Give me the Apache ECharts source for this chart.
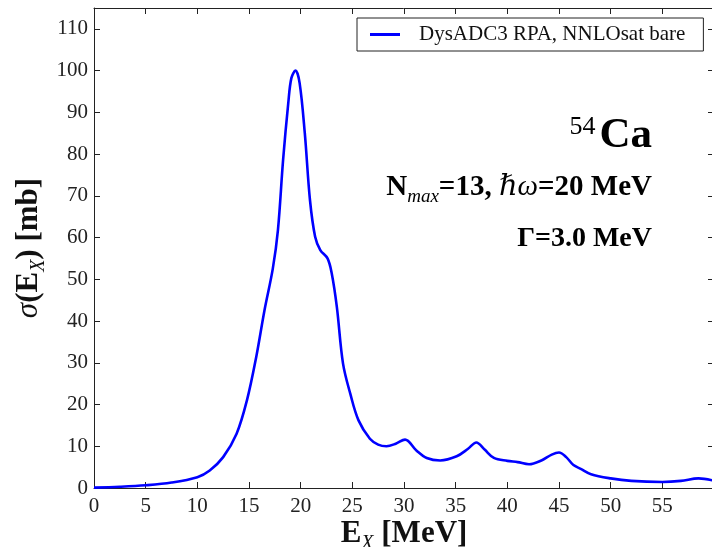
<!DOCTYPE html>
<html>
<head>
<meta charset="utf-8">
<script src="https://cdn.jsdelivr.net/npm/echarts@6/dist/echarts.min.js"></script>
<style>
  html, body { margin: 0; padding: 0; background: #fff; }
  #chart { width: 712px; height: 547px; }
</style>
</head>
<body>
<div id="chart"></div>
<script>
// Excitation energy E_X [MeV]
const energy = [0, 2.5, 5, 7.5, 10, 11.2, 12.5, 13.8, 14.8, 15.7, 16.5, 17.3, 17.8, 18.3, 18.8, 19.1, 19.5, 19.9,
  20.4, 20.9, 21.4, 21.9, 22.6, 23.0, 23.5, 24.1, 24.8, 25.6, 26.7, 27.5, 28.3, 29.2, 30.1, 31.2, 32.2, 33.5,
  35.1, 36.2, 37.0, 37.8, 38.7, 40.0, 41.0, 42.1, 43.3, 44.3, 45.0, 45.7, 46.4, 47.1, 48.1, 50.0, 52.0, 55.0,
  56.8, 58.5, 60.0];
// Photoabsorption cross section sigma(E_X) [mb]
const sigma = [0.1, 0.3, 0.65, 1.3, 2.6, 4.2, 7.4, 13, 21, 31.4, 42.6, 52.5, 61.8, 78.6, 92.2, 98.2, 100, 97,
  85, 69, 60.2, 57, 55, 51.5, 43.4, 29.8, 22.6, 16.2, 11.8, 10.4, 10, 10.6, 11.6, 9, 7.2, 6.6,
  7.6, 9.4, 10.9, 9.2, 7.2, 6.5, 6.2, 5.7, 6.6, 8.0, 8.5, 7.4, 5.5, 4.6, 3.3, 2.3, 1.7, 1.45,
  1.7, 2.3, 1.75];

const xTicks = [0, 5, 10, 15, 20, 25, 30, 35, 40, 45, 50, 55];
const yTicks = [0, 10, 20, 30, 40, 50, 60, 70, 80, 90, 100, 110];
const seriesName = 'DysADC3 RPA, NNLOsat bare';

const SERIF = "'Liberation Serif', 'DejaVu Serif', serif";
const INK = '#222';

const chart = echarts.init(document.getElementById('chart'), null, { renderer: 'canvas' });

const spine = { show: true, onZero: false, lineStyle: { color: INK, width: 1 } };
const inTick = { show: true, inside: true, length: 6, lineStyle: { color: INK, width: 1 } };

chart.setOption({
  animation: false,
  backgroundColor: '#fff',
  grid: { left: 94, top: 8, width: 620, height: 480, containLabel: false, outerBoundsMode: 'none' },
  legend: {
    data: [{ name: seriesName, icon: 'rect' }],
    left: 357, top: 18,
    orient: 'horizontal',
    padding: [6, 18, 6, 13],
    itemWidth: 30, itemHeight: 3,
    borderColor: INK, borderWidth: 1, borderRadius: 0,
    backgroundColor: '#fff',
    textStyle: { fontFamily: SERIF, fontSize: 21, color: '#111', padding: [0, 0, 0, 14] }
  },
  xAxis: [{
    type: 'value', min: 0, max: 60, interval: 5,
    position: 'bottom',
    axisLine: spine, axisTick: inTick, splitLine: { show: false },
    axisLabel: {
      margin: 8, fontFamily: SERIF, fontSize: 21, color: INK,
      formatter: v => (xTicks.includes(v) ? String(v) : '')
    },
    name: '{b|E}{s|X}{b| [MeV]}',
    nameLocation: 'middle', nameGap: 30, nameMoveOverlap: false,
    nameTextStyle: {
      verticalAlign: 'top',
      rich: {
        b: { fontFamily: SERIF, fontWeight: 'bold', fontSize: 31, color: '#111' },
        s: { fontFamily: SERIF, fontStyle: 'italic', fontSize: 20, color: '#111', verticalAlign: 'bottom', padding: [0, 0, -5, 0] }
      }
    }
  }, {
    type: 'value', min: 0, max: 60, interval: 5,
    position: 'top',
    axisLine: spine, axisTick: inTick, axisLabel: { show: false }, splitLine: { show: false }
  }],
  yAxis: [{
    type: 'value', min: 0, max: 115, interval: 10,
    position: 'left',
    axisLine: spine, axisTick: inTick, splitLine: { show: false },
    axisLabel: {
      margin: 6, fontFamily: SERIF, fontSize: 21, color: INK,
      formatter: v => (yTicks.includes(v) ? String(v) : '')
    },
    name: '{i|σ}{b|(E}{s|X}{b|) [mb]}',
    nameLocation: 'middle', nameGap: 50, nameRotate: 90, nameMoveOverlap: false,
    nameTextStyle: {
      rich: {
        i: { fontFamily: SERIF, fontStyle: 'italic', fontSize: 31, color: '#111' },
        b: { fontFamily: SERIF, fontWeight: 'bold', fontSize: 31, color: '#111' },
        s: { fontFamily: SERIF, fontStyle: 'italic', fontSize: 20, color: '#111', verticalAlign: 'bottom', padding: [0, 0, -5, 0] }
      }
    }
  }, {
    type: 'value', min: 0, max: 115, interval: 10,
    position: 'right',
    axisLine: spine, axisTick: inTick, axisLabel: { show: false }, splitLine: { show: false }
  }],
  series: [{
    name: seriesName,
    type: 'line',
    xAxisIndex: 0, yAxisIndex: 0,
    data: energy.map((e, i) => [e, sigma[i]]),
    smooth: 0.35,
    symbol: 'none',
    lineStyle: { color: '#0000ff', width: 2.6 },
    itemStyle: { color: '#0000ff' },
    clip: true
  }],
  graphic: [{
    type: 'text', right: 60, top: 114,
    style: {
      text: '{sup|54}{big|Ca}',
      rich: {
        sup: { fontFamily: SERIF, fontSize: 26, color: '#111', verticalAlign: 'top', padding: [0, 4, 14, 0] },
        big: { fontFamily: SERIF, fontWeight: 'bold', fontSize: 43, color: '#111' }
      }
    }
  }, {
    type: 'text', right: 60, top: 173,
    style: {
      text: '{b|N}{s|max}{b|=13, }{i|ℏω}{b|=20 MeV}',
      rich: {
        b: { fontFamily: SERIF, fontWeight: 'bold', fontSize: 29, color: '#111' },
        i: { fontFamily: SERIF, fontStyle: 'italic', fontSize: 29, color: '#111' },
        s: { fontFamily: SERIF, fontStyle: 'italic', fontSize: 19, color: '#111', verticalAlign: 'bottom', padding: [0, 0, -4, 0] }
      }
    }
  }, {
    type: 'text', right: 60, top: 225,
    style: {
      text: '{b|Γ=3.0 MeV}',
      rich: {
        b: { fontFamily: SERIF, fontWeight: 'bold', fontSize: 28, color: '#111' }
      }
    }
  }]
});
</script>
</body>
</html>
